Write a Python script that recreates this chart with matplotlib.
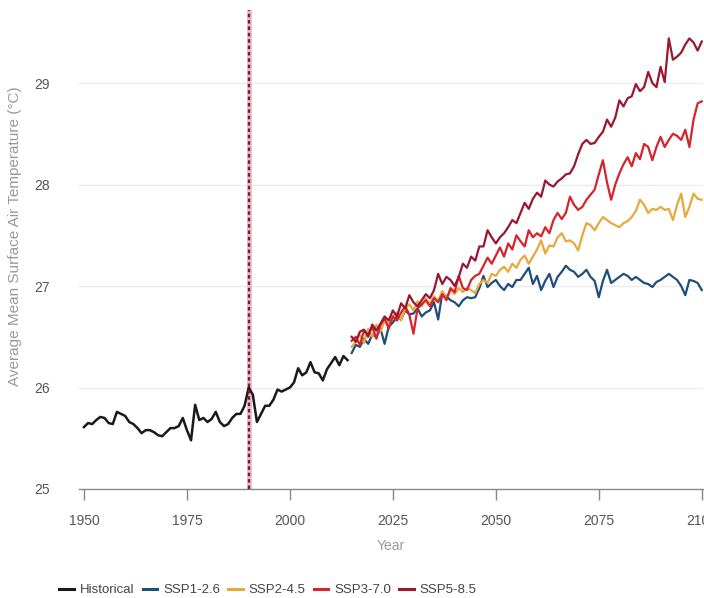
import matplotlib
matplotlib.use("Agg")
import matplotlib.pyplot as plt
import numpy as np

plt.rcParams['font.family'] = ['Liberation Sans', 'DejaVu Sans']

hist_years = list(range(1950, 2015))
historical = [25.61, 25.65, 25.64, 25.68, 25.71, 25.70, 25.65, 25.64, 25.76, 25.74,
              25.72, 25.66, 25.64, 25.60, 25.55, 25.58, 25.58, 25.56, 25.53, 25.52,
              25.56, 25.60, 25.60, 25.62, 25.70, 25.58, 25.48, 25.83, 25.68, 25.70,
              25.66, 25.69, 25.76, 25.66, 25.62, 25.64, 25.70, 25.74, 25.74, 25.82,
              26.00, 25.93, 25.66, 25.74, 25.82, 25.82, 25.88, 25.98, 25.96, 25.98,
              26.00, 26.05, 26.19, 26.12, 26.15, 26.25, 26.15, 26.14, 26.07, 26.18,
              26.24, 26.30, 26.22, 26.31, 26.27]

proj_years = list(range(2015, 2101))
ssp126 = [26.34, 26.42, 26.40, 26.48, 26.43, 26.52, 26.50, 26.58, 26.43, 26.60,
          26.64, 26.70, 26.67, 26.76, 26.72, 26.73, 26.78, 26.70, 26.74, 26.76,
          26.84, 26.67, 26.93, 26.90, 26.86, 26.84, 26.80, 26.86, 26.89, 26.88,
          26.89, 26.98, 27.10, 26.99, 27.03, 27.06, 27.00, 26.96, 27.02, 26.99,
          27.06, 27.06, 27.12, 27.18, 27.02, 27.10, 26.96, 27.05, 27.12, 26.99,
          27.09, 27.14, 27.20, 27.16, 27.14, 27.09, 27.12, 27.16, 27.09, 27.05,
          26.89, 27.05, 27.16, 27.03, 27.06, 27.09, 27.12, 27.10, 27.06, 27.09,
          27.06, 27.03, 27.02, 26.99, 27.04, 27.06, 27.09, 27.12, 27.09, 27.06,
          27.00, 26.91, 27.06, 27.05, 27.03, 26.96]
ssp245 = [26.40, 26.45, 26.52, 26.44, 26.58, 26.50, 26.62, 26.55, 26.66, 26.62,
          26.70, 26.74, 26.66, 26.78, 26.82, 26.76, 26.85, 26.80, 26.88, 26.82,
          26.90, 26.85, 26.95, 26.88, 26.96, 26.92, 26.98, 26.94, 26.98, 26.96,
          26.93, 27.02, 27.06, 27.03, 27.12, 27.10, 27.16, 27.19, 27.14, 27.22,
          27.18, 27.26, 27.30, 27.22, 27.29, 27.36, 27.45, 27.32, 27.40, 27.39,
          27.48, 27.52, 27.44, 27.45, 27.42, 27.35, 27.50, 27.62, 27.60, 27.55,
          27.62, 27.68, 27.65, 27.62, 27.60, 27.58, 27.62, 27.64, 27.68, 27.74,
          27.85, 27.80, 27.72, 27.76, 27.75, 27.78, 27.75, 27.76, 27.65, 27.80,
          27.91, 27.68, 27.78, 27.91, 27.86, 27.85]
ssp370 = [26.46, 26.50, 26.42, 26.56, 26.52, 26.60, 26.48, 26.62, 26.68, 26.58,
          26.70, 26.66, 26.74, 26.80, 26.72, 26.53, 26.78, 26.82, 26.86, 26.80,
          26.88, 26.84, 26.92, 26.86, 26.98, 26.94, 27.10, 26.98, 26.96, 27.06,
          27.10, 27.12, 27.20, 27.28, 27.22, 27.30, 27.38, 27.29, 27.42, 27.36,
          27.50, 27.44, 27.39, 27.55, 27.48, 27.52, 27.49, 27.58, 27.52, 27.65,
          27.72, 27.66, 27.72, 27.88, 27.80, 27.75, 27.78, 27.85, 27.90, 27.95,
          28.10, 28.24, 28.02, 27.85, 28.00, 28.11, 28.20, 28.27, 28.18, 28.31,
          28.25, 28.40, 28.37, 28.24, 28.37, 28.47, 28.37, 28.44, 28.50, 28.48,
          28.44, 28.54, 28.37, 28.64, 28.80, 28.82]
ssp585 = [26.50, 26.45, 26.55, 26.57, 26.50, 26.62, 26.56, 26.63, 26.70, 26.66,
          26.76, 26.70, 26.83, 26.78, 26.91, 26.84, 26.80, 26.86, 26.92, 26.88,
          26.96, 27.12, 27.02, 27.09, 27.06, 27.00, 27.09, 27.22, 27.18, 27.29,
          27.25, 27.39, 27.39, 27.55, 27.48, 27.42, 27.48, 27.52, 27.58, 27.65,
          27.62, 27.72, 27.82, 27.76, 27.86, 27.92, 27.88, 28.04, 28.00, 27.98,
          28.03, 28.06, 28.10, 28.11, 28.18, 28.30, 28.40, 28.44, 28.40, 28.41,
          28.47, 28.52, 28.64, 28.57, 28.66, 28.83, 28.77, 28.85, 28.87, 28.99,
          28.92, 28.96, 29.11, 29.00, 28.96, 29.16, 29.01, 29.44, 29.23, 29.26,
          29.30, 29.38, 29.44, 29.40, 29.32, 29.41]

series_names = ["Historical", "SSP1-2.6", "SSP2-4.5", "SSP3-7.0", "SSP5-8.5"]
colors = ["#1a1a1a", "#1f4e79", "#e8a83c", "#d7232b", "#98182f"]

x_ticks = [1950, 1975, 2000, 2025, 2050, 2075, 2100]
y_ticks = [25, 26, 27, 28, 29]
ref_year = 1990

W, H = 704, 598
fig = plt.figure(figsize=(W / 100, H / 100), dpi=100)
ax_w = 703 - 79
ax = fig.add_axes([79 / W, (H - 489) / H, ax_w / W, (489 - 10) / H])

ax.plot(hist_years, historical, color=colors[0], lw=1.8, label=series_names[0], zorder=3)
for vals, name, c in zip([ssp126, ssp245, ssp370, ssp585], series_names[1:], colors[1:]):
    ax.plot(proj_years, vals, color=c, lw=1.6, label=name, zorder=3)

ax.axvline(ref_year, color="#f2b8c0", lw=3.4, zorder=2)
ax.axvline(ref_year, color="#6e1f33", lw=1.7, linestyle=(0, (1.5, 1.2)), zorder=4)

ax.set_xlim(1948.8, 2100.3)
ax.set_ylim(25, 29.72)
ax.set_xticks(x_ticks)
ax.set_yticks(y_ticks)
ax.set_xticklabels([str(v) for v in x_ticks])
ax.set_yticklabels([str(v) for v in y_ticks])

for yv in y_ticks[1:]:
    ax.axhline(yv, color="#ececec", lw=1.0, zorder=1)

for s in ["top", "right", "left"]:
    ax.spines[s].set_visible(False)
ax.spines["bottom"].set_color("#888888")
ax.spines["bottom"].set_linewidth(1.0)

ax.tick_params(axis="x", direction="out", length=8, width=1, color="#888888",
               labelcolor="#555555", labelsize=10, pad=10)
ax.tick_params(axis="y", length=0, labelcolor="#555555", labelsize=10, pad=21)

ax.set_xlabel("Year", color="#999999", fontsize=10, labelpad=8)
ax.set_ylabel("Average Mean Surface Air Temperature (\u00b0C)", color="#999999",
              fontsize=11)
ax.yaxis.set_label_coords((22 - 79) / ax_w, 0.528)

handles, labels = ax.get_legend_handles_labels()
leg = fig.legend(handles, labels, loc="center", bbox_to_anchor=(268 / W, 1 - 590 / H),
                 ncol=5, frameon=False, fontsize=9.5, handlelength=1.1,
                 columnspacing=0.62, handletextpad=0.45, labelcolor="#444444")
for line in leg.get_lines():
    line.set_linewidth(2.2)

fig.savefig("out.png", dpi=100, facecolor="white")
